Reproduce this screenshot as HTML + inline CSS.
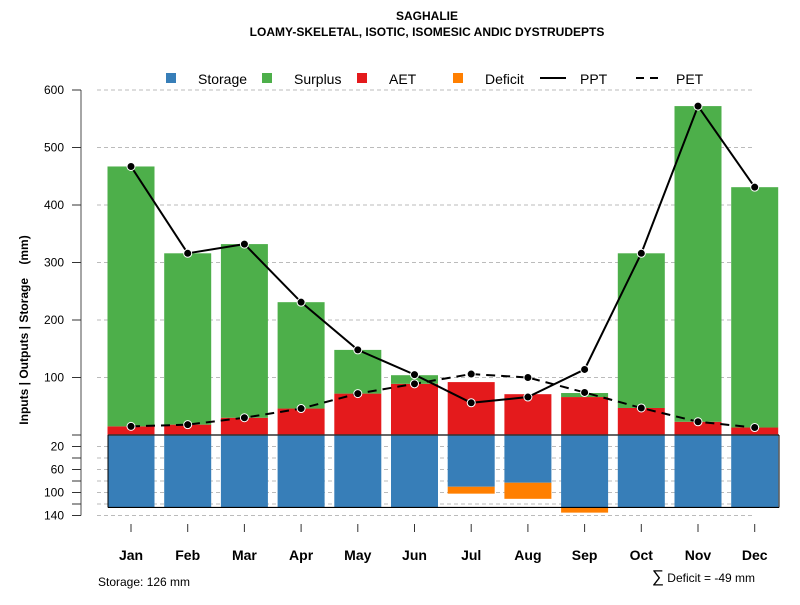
<!DOCTYPE html>
<html><head><meta charset="utf-8"><style>
body{margin:0;background:#fff}
svg text{font-family:"Liberation Sans",Arial,sans-serif}
</style></head><body>
<svg id="chart" width="800" height="600" xmlns="http://www.w3.org/2000/svg">
<text x="427" y="20" text-anchor="middle" font-size="12" font-weight="bold">SAGHALIE</text>
<text x="427" y="36" text-anchor="middle" font-size="12" font-weight="bold">LOAMY-SKELETAL, ISOTIC, ISOMESIC ANDIC DYSTRUDEPTS</text>
<g id="grid"></g><g id="bars"></g><g id="lines"></g><g id="axes"></g>
<g font-size="14">
<rect x="166" y="73" width="10" height="10" fill="#377eb8"/><text x="198" y="84">Storage</text>
<rect x="262" y="73" width="10" height="10" fill="#4daf4a"/><text x="294" y="84">Surplus</text>
<rect x="357" y="73" width="10" height="10" fill="#e41a1c"/><text x="389" y="84">AET</text>
<rect x="453" y="73" width="10" height="10" fill="#ff7f00"/><text x="485" y="84">Deficit</text>
<line x1="540" y1="78" x2="566" y2="78" stroke="#000" stroke-width="2"/><text x="580" y="84">PPT</text>
<line x1="636" y1="78" x2="662" y2="78" stroke="#000" stroke-width="2" stroke-dasharray="8,6"/><text x="676" y="84">PET</text>
</g>
<text transform="translate(28,330) rotate(-90)" text-anchor="middle" font-size="12" font-weight="bold">Inputs | Outputs | Storage&#160;&#160;&#160;&#160;(mm)</text>
<text x="98" y="586" font-size="12">Storage: 126 mm</text>
<text x="755" y="582" text-anchor="end" font-size="12"><tspan font-size="17">∑</tspan> Deficit = -49 mm</text>
</svg>
<script>
const months=["Jan","Feb","Mar","Apr","May","Jun","Jul","Aug","Sep","Oct","Nov","Dec"];
const ppt=[467,316,332,231,148,105,56,66,114,316,572,431];
const pet=[15,18,30,46,72,89,106,100,74,47,23,13];
const aet=[15,18,30,46,72,89,92,71,66,47,23,13];
const surplus=[452,298,302,185,76,15,0,0,7,269,549,418];
const storage=[126,126,126,126,126,126,90,83,126,126,126,126];
const deficit=[0,0,0,0,0,0,12,28,9,0,0,0];
const upperTicks=[100,200,300,400,500,600];
const lowerTicks=[20,60,100,140];
const NS="http://www.w3.org/2000/svg";
const y0=435,k=0.575;
const yU=v=>y0-v*k, yL=v=>y0+v*k;
const xc=i=>131+i*56.7;
const bw=47;
function mk(p,t,a){const e=document.createElementNS(NS,t);for(const n in a)e.setAttribute(n,a[n]);document.getElementById(p).appendChild(e);return e;}
upperTicks.forEach(v=>{const l=mk('grid','line',{x1:97,x2:755,y1:yU(v),y2:yU(v),stroke:'#bbb','stroke-dasharray':'4,3'});

});
for(let v=20;v<=140;v+=20){const l=mk('grid','line',{x1:97,x2:755,y1:yL(v),y2:yL(v),stroke:'#bbb','stroke-dasharray':'4,3'});

}
months.forEach((m,i)=>{const x=xc(i)-bw/2;
let r=mk('bars','rect',{x:x,y:yL(0),width:bw,height:storage[i]*k,fill:'#377eb8'});


if(deficit[i]>0){r=mk('bars','rect',{x:x,y:yL(storage[i]),width:bw,height:deficit[i]*k,fill:'#ff7f00'});

}
r=mk('bars','rect',{x:x,y:yU(aet[i]),width:bw,height:aet[i]*k,fill:'#e41a1c'});


if(surplus[i]>0){r=mk('bars','rect',{x:x,y:yU(aet[i]+surplus[i]),width:bw,height:surplus[i]*k,fill:'#4daf4a'});

}
});
let b=mk('bars','line',{x1:108,x2:779,y1:y0,y2:y0,stroke:'#333','stroke-width':1.5});


b=mk('bars','line',{x1:108,x2:779,y1:yL(126),y2:yL(126),stroke:'#000','stroke-width':1.2});


b=mk('bars','line',{x1:779,x2:779,y1:y0,y2:yL(126),stroke:'#000','stroke-width':1});


b=mk('bars','line',{x1:108,x2:108,y1:y0,y2:yL(126),stroke:'#000','stroke-width':1});


function series(vals,dash,name){const p=mk('lines','polyline',{points:vals.map((v,i)=>xc(i)+','+yU(v)).join(' '),fill:'none',stroke:'#000','stroke-width':2,'stroke-dasharray':dash});


vals.forEach((v,i)=>{const c=mk('lines','circle',{cx:xc(i),cy:yU(v),r:4,fill:'#000',stroke:'#fff','stroke-width':1});

});}
series(pet,'9,6','pet');series(ppt,'none','ppt');
let a=mk('axes','line',{x1:81,x2:81,y1:yU(600),y2:yL(140),stroke:'#888','stroke-width':1.5});


upperTicks.forEach(v=>{let t=mk('axes','line',{x1:72,x2:81,y1:yU(v),y2:yU(v),stroke:'#333'});


t=mk('axes','text',{x:64,y:yU(v)+4,'text-anchor':'end','font-size':12});t.textContent=v;

});
for(let v=0;v<=140;v+=20){let t=mk('axes','line',{x1:72,x2:81,y1:yL(v),y2:yL(v),stroke:'#333'});

}
lowerTicks.forEach(v=>{const t=mk('axes','text',{x:64,y:yL(v)+4,'text-anchor':'end','font-size':12});t.textContent=v;

});
months.forEach((m,i)=>{let t=mk('axes','line',{x1:xc(i),x2:xc(i),y1:524,y2:532,stroke:'#333'});


t=mk('axes','text',{x:xc(i),y:560,'text-anchor':'middle','font-size':14,'font-weight':'bold'});t.textContent=m;

});
</script>
</body></html>
